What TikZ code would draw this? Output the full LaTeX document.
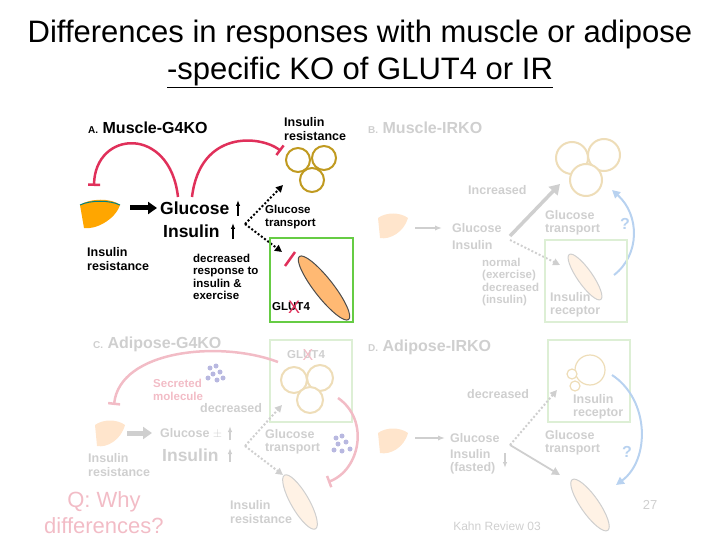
\documentclass[tikz,border=0pt]{standalone}
\usepackage{fontspec}
\setmainfont{Liberation Sans}
\usetikzlibrary{arrows.meta,shapes.geometric}
\definecolor{pk}{HTML}{E0305A}
\definecolor{fpk}{HTML}{F2BCC6}
\definecolor{fg}{HTML}{CFCFCF}
\definecolor{gr}{HTML}{66CC44}
\definecolor{fgr}{HTML}{DDEFD5}
\definecolor{gold}{HTML}{C09A20}
\definecolor{fgold}{HTML}{EEDDB8}
\definecolor{fbl}{HTML}{B8D2F0}
\definecolor{fpu}{HTML}{B8B8E0}
\begin{document}
\begin{tikzpicture}[x=1pt,y=-1pt,
 lbl/.style={font=\bfseries\fontsize{12.5}{13.5}\selectfont,align=left,inner sep=0pt},
 sml/.style={font=\bfseries\fontsize{11.5}{12.3}\selectfont,align=left,inner sep=0pt},
 big/.style={font=\bfseries\fontsize{17.5}{18}\selectfont,inner sep=0pt},
 ttl/.style={font=\bfseries\fontsize{16}{17}\selectfont,anchor=west,inner sep=0pt},
 inh/.style={line width=2.5pt,-{Bar[width=12pt]}},
 dot/.style={dotted,line width=2pt,-{Triangle[length=7pt,width=7pt]}},
 cell/.style={draw=#1,line width=2pt,fill=white},
 musc/.style={draw=#1,line width=1pt,ellipse,minimum width=80pt,minimum height=19pt},
 box/.style={draw=#1,line width=1.5pt}]
\useasboundingbox (0,0) rectangle (720,540);
% title
\node[font=\fontsize{31}{34}\selectfont] (t1) at (360,34) {Differences in responses with muscle or adipose};
\node[font=\fontsize{31}{34}\selectfont] (t2) at (360,72) {\underline{-specific KO of GLUT4 or IR}};
% ---------- Panel A
\node[ttl] (ta) at (88,128) {{\fontsize{10}{10}\selectfont A.} Muscle-G4KO};
\fill[orange!70!yellow] (80,205) .. controls (90,198) and (112,198) .. (120,205) .. controls (115,220) and (95,230) .. (84,228) -- cycle;
\draw[teal,line width=1pt] (80,205) .. controls (90,200) and (110,200) .. (120,205);
\node[big,anchor=west] (ga) at (160,208) {Glucose};
\node[big,anchor=west] (ia) at (163,231) {Insulin};
\draw[-{Latex[length=6pt]},line width=1.5pt] (238,216) -- (238,200);
\draw[-{Latex[length=6pt]},line width=1.5pt] (233,239) -- (233,223);
\draw[-{Triangle[length=9pt,width=12pt]},line width=5pt] (130,208) -- (157,208);
\draw[inh,pk] (178,197) .. controls (170,125) and (95,130) .. (94,186);
\draw[inh,pk] (192,197) .. controls (200,130) and (260,135) .. (281,151);
\node[lbl,anchor=west] (ira) at (284,129) {Insulin\\resistance};
\draw[cell=gold] (298,160) circle (12);
\draw[cell=gold] (324,158) circle (12);
\draw[cell=gold] (312,180) circle (12);
\coordinate (ca) at (245,224);
\draw[dot] (ca) -- (283,185);
\draw[dot] (ca) -- (282,252);
\node[sml,anchor=west] (gta) at (265,217) {Glucose\\transport};
\draw[box=gr] (270,238) rectangle (353,322);
\draw[pk,line width=2.5pt] (285,266) -- (295,252);
\node[musc=black!70,fill=orange!55,rotate=-52] (ma) at (324,288) {};
\node[sml,anchor=west] (g4a) at (272,307) {GLUT4};
\node[text=pk,font=\fontsize{18}{18}\selectfont,inner sep=0pt] (xa) at (294,307) {X};
\node[lbl,anchor=west] (ir1) at (87,259) {Insulin\\resistance};
\node[sml,anchor=west] (dra) at (193,277) {decreased\\response to\\insulin \&\\exercise};
% ---------- Panel B
\begin{scope}[text=fg]
\node[ttl] (tb) at (368,128) {{\fontsize{10}{10}\selectfont B.} Muscle-IRKO};
\fill[orange!20] (378,218) .. controls (386,212) and (400,212) .. (408,218) .. controls (404,232) and (390,240) .. (380,238) -- cycle;
\draw[-{Latex[length=7pt]},line width=1.5pt,fg] (415,228) -- (442,228);
\node[lbl,anchor=west] (gb) at (452,228) {Glucose};
\node[lbl,anchor=west] (ib) at (452,245) {Insulin};
\node[lbl,anchor=west] (incb) at (468,190) {Increased};
\draw[fg,line width=3.5pt,-{Triangle[length=10pt,width=12pt]}] (510,236) -- (560,184);
\draw[dot,fg] (510,240) -- (560,265);
\draw[cell=fgold] (572,158) circle (16);
\draw[cell=fgold] (604,155) circle (16);
\draw[cell=fgold] (586,180) circle (16);
\node[lbl,anchor=west] (gtb) at (545,223) {Glucose\\transport};
\node[font=\bfseries\fontsize{16}{16}\selectfont,text=fbl] (qb) at (625,224) {?};
\draw[fbl,line width=2pt,-{Triangle[length=8pt,width=8pt]}] (614,275) .. controls (640,255) and (640,215) .. (612,190);
\draw[box=fgr] (545,240) rectangle (627,322);
\node[musc=fg,fill=orange!10,rotate=-55,minimum width=55pt,minimum height=15pt] (mb) at (585,277) {};
\node[sml,anchor=west] (nb) at (482,282) {normal\\(exercise)\\decreased\\(insulin)};
\node[lbl,anchor=west] (irb) at (550,305) {Insulin\\receptor};
\end{scope}
% ---------- Panel C
\begin{scope}[text=fg]
\node[ttl] (tc) at (93,344) {{\fontsize{10}{10}\selectfont C.} Adipose-G4KO};
\draw[box=fgr] (270,340) rectangle (352,422);
\node[sml,anchor=west] (g4c) at (287,355) {GLUT4};
\node[text=fpk,font=\fontsize{16}{16}\selectfont,inner sep=0pt] (xc) at (308,355) {X};
\draw[cell=fgold] (294,380) circle (13);
\draw[cell=fgold] (320,378) circle (13);
\draw[cell=fgold] (310,400) circle (13);
\draw[inh,fpk] (278,362) .. controls (220,340) and (120,350) .. (114,405);
\node[sml,anchor=west,text=fpk] (smc) at (153,390) {Secreted\\molecule};
\foreach \p in {(210,368),(216,366),(213,374),(220,372),(208,378),(217,380),(223,378)} \fill[fpu] \p circle (2.5);
\node[lbl,anchor=west] (dc) at (200,408) {decreased};
\fill[orange!20] (95,425) .. controls (103,419) and (117,419) .. (125,425) .. controls (121,440) and (107,448) .. (97,446) -- cycle;
\draw[fg,line width=5pt,-{Triangle[length=9pt,width=12pt]}] (127,433) -- (152,433);
\node[lbl,anchor=west] (gc) at (160,433) {Glucose $\pm$};
\draw[-{Latex[length=6pt]},line width=1.5pt,fg] (230,440) -- (230,426);
\node[big,anchor=west] (ic) at (162,455) {Insulin};
\draw[-{Latex[length=6pt]},line width=1.5pt,fg] (230,462) -- (230,448);
\node[lbl,anchor=west] (irc) at (88,465) {Insulin\\resistance};
\coordinate (cc) at (245,446);
\draw[dot,fg] (cc) -- (282,405);
\draw[dot,fg] (cc) -- (283,475);
\node[lbl,anchor=west] (gtc) at (265,442) {Glucose\\transport};
\foreach \p in {(336,438),(342,436),(338,444),(346,442),(334,450),(342,451),(350,449)} \fill[fpu] \p circle (2.5);
\draw[inh,fpk] (338,398) .. controls (370,420) and (360,470) .. (328,482);
\node[musc=fg,fill=orange!10,rotate=-60,minimum width=62pt,minimum height=18pt] (mc) at (300,502) {};
\node[lbl,anchor=west] (irc2) at (230,512) {Insulin\\resistance};
\node[anchor=west,text=fpk,font=\fontsize{22}{26}\selectfont,align=center,inner sep=0pt] (q) at (44,513) {Q: Why\\differences?};
\end{scope}
% ---------- Panel D
\begin{scope}[text=fg]
\node[ttl] (td) at (368,347) {{\fontsize{10}{10}\selectfont D.} Adipose-IRKO};
\draw[box=fgr] (548,340) rectangle (630,422);
\draw[cell=fgold,line width=1.2pt] (590,370) circle (15);
\draw[cell=fgold,line width=1.2pt] (572,374) circle (5);
\draw[cell=fgold,line width=1.2pt] (575,386) circle (5);
\node[lbl,anchor=west] (ird) at (573,407) {Insulin\\receptor};
\node[lbl,anchor=west] (dd) at (467,394) {decreased};
\fill[orange!20] (378,433) .. controls (386,427) and (400,427) .. (408,433) .. controls (404,448) and (390,455) .. (380,453) -- cycle;
\draw[-{Latex[length=7pt]},line width=1.5pt,fg] (415,438) -- (445,438);
\node[lbl,anchor=west] (gd) at (450,438) {Glucose};
\node[lbl,anchor=west] (id) at (450,462) {Insulin\\(fasted)};
\draw[-{Latex[length=6pt]},line width=1.5pt,fg] (505,453) -- (505,468);
\coordinate (cd) at (510,445);
\draw[dot,fg] (cd) -- (557,390);
\draw[fg,line width=1.8pt,-{Triangle[length=8pt,width=8pt]}] (cd) -- (560,475);
\node[lbl,anchor=west] (gtd) at (545,443) {Glucose\\transport};
\draw[fbl,line width=2pt,-{Triangle[length=8pt,width=8pt]}] (612,375) .. controls (650,400) and (650,460) .. (616,485);
\node[font=\bfseries\fontsize{16}{16}\selectfont,text=fbl] (qd) at (627,452) {?};
\node[musc=fg,fill=orange!10,rotate=-55,minimum width=62pt,minimum height=18pt] (md) at (590,505) {};
\node[font=\fontsize{13}{13}\selectfont] (n27) at (650,505) {27};
\node[font=\fontsize{12}{12}\selectfont] (kr) at (497,526) {Kahn Review 03};
\end{scope}
\end{tikzpicture}
\end{document}
